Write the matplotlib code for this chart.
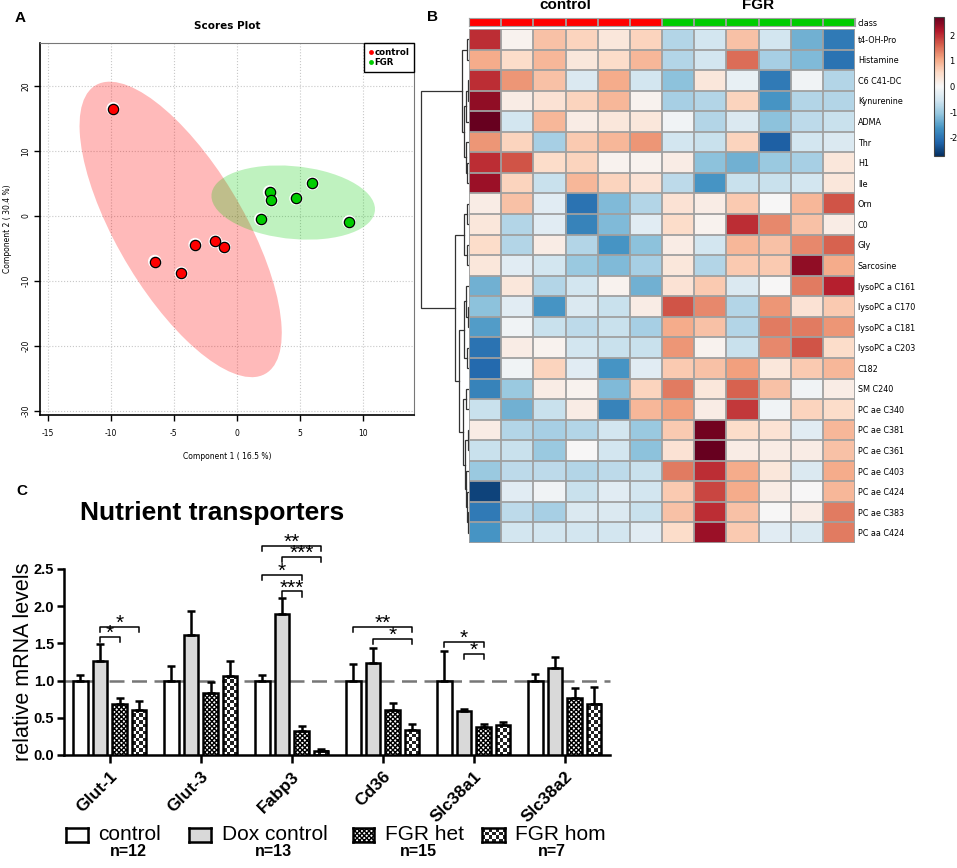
import numpy as np
import matplotlib
matplotlib.use("Agg")
import matplotlib.pyplot as plt
from matplotlib.patches import Ellipse, Rectangle
from matplotlib.lines import Line2D
from matplotlib.colors import ListedColormap, Normalize
from matplotlib.cm import ScalarMappable

plt.rcParams['hatch.linewidth'] = 1.0

# ---------------- Panel A data (PLS-DA scores) ----------------
ctrl_x = [-9.8, -6.5, -4.4, -3.3, -1.7, -1.0]
ctrl_y = [16.5, -7.0, -8.8, -4.4, -3.9, -4.8]
fgr_x = [1.9, 2.6, 2.75, 4.7, 6.0, 8.9]
fgr_y = [-0.5, 3.7, 2.4, 2.7, 5.0, -0.9]
pca_xticks = [-15, -10, -5, 0, 5, 10]
pca_yticks = [-30, -20, -10, 0, 10, 20]

# ---------------- Panel B data (heatmap) ----------------
metabolites = ["t4-OH-Pro", "Histamine", "C6 C41-DC", "Kynurenine", "ADMA", "Thr", "H1", "Ile",
               "Orn", "C0", "Gly", "Sarcosine", "lysoPC a C161", "lysoPC a C170", "lysoPC a C181",
               "lysoPC a C203", "C182", "SM C240", "PC ae C340", "PC ae C381", "PC ae C361",
               "PC ae C403", "PC ae C424", "PC ae C383", "PC aa C424"]
sample_class = [0, 0, 0, 0, 0, 0, 1, 1, 1, 1, 1, 1]
class_names = ["control", "FGR"]
heat = [
    [2.0, 0.1, 0.8, 0.6, 0.3, 0.6, -0.8, -0.5, 0.8, -0.5, -1.3, -1.9],
    [1.0, 0.5, 0.9, 0.3, 0.5, 0.9, -0.8, -0.5, 1.5, -0.9, -1.2, -2.0],
    [2.0, 1.2, 0.8, -0.4, 1.0, -0.5, -1.1, 0.3, -0.2, -1.9, -0.1, -0.8],
    [2.4, 0.2, 0.4, 0.6, 0.9, 0.1, -0.9, -0.8, 0.6, -1.6, -0.8, -0.8],
    [2.8, -0.5, 0.9, 0.2, 0.3, 0.3, -0.1, -0.8, -0.4, -1.1, -0.7, -0.6],
    [1.2, 0.6, -0.9, 0.7, 0.9, 1.2, -0.5, -0.6, 0.6, -2.2, -0.5, -0.4],
    [2.0, 1.7, 0.5, 0.6, 0.1, 0.1, 0.2, -1.1, -1.3, -1.0, -0.9, 0.3],
    [2.3, 0.6, -0.6, 0.9, 0.6, 0.4, -0.7, -1.6, -0.6, -0.6, -0.5, 0.3],
    [0.2, 0.8, -0.3, -2.0, -1.2, -0.8, 0.4, 0.2, 0.7, 0.0, 0.9, 1.7],
    [0.3, -0.8, -0.3, -1.8, -1.2, -0.3, 0.5, 0.1, 2.0, 1.3, 0.8, 0.2],
    [0.5, -0.8, 0.2, -0.8, -1.6, -1.1, 0.2, -0.5, 0.9, 0.8, 1.3, 1.6],
    [0.3, -0.3, -0.5, -1.0, -1.2, -0.9, 0.3, -0.8, 0.7, 0.7, 2.4, 1.0],
    [-1.3, 0.3, -0.8, -0.5, 0.1, -1.3, 0.4, 0.7, -0.4, 0.0, 1.4, 2.1],
    [-1.1, -0.3, -1.6, -0.4, -0.6, 0.2, 1.7, 1.3, -0.8, 1.2, 0.4, 0.7],
    [-1.5, -0.1, -0.6, -0.7, -0.6, -0.9, 1.0, 0.8, -0.8, 1.4, 1.4, 1.2],
    [-2.0, 0.2, 0.1, -0.5, -0.6, -0.6, 1.2, 0.1, -0.6, 1.3, 1.7, 0.5],
    [-2.1, -0.1, 0.6, -0.3, -1.6, -0.3, 0.7, 0.8, 1.1, 0.3, 0.7, 0.9],
    [-1.8, -1.0, 0.2, 0.1, -1.2, 0.6, 1.4, 0.3, 1.6, 0.8, -0.1, 0.2],
    [-0.6, -1.3, -0.6, 0.2, -1.8, 0.9, 1.1, 0.2, 1.9, -0.1, 0.6, 0.5],
    [0.2, -0.8, -0.9, -0.8, -0.5, -1.0, 0.7, 2.6, 0.5, 0.4, -0.3, 0.9],
    [-0.6, -0.6, -1.0, 0.0, -0.5, -1.1, 0.4, 2.9, 0.2, 0.2, 0.2, 0.8],
    [-1.0, -0.7, -0.7, -0.8, -0.7, -0.6, 1.4, 2.0, 1.0, 0.3, -0.4, 1.0],
    [-2.5, -0.3, -0.1, -0.6, -0.3, -0.5, 0.7, 1.8, 1.0, 0.2, 0.0, 0.9],
    [-1.9, -0.7, -0.9, -0.4, -0.4, -0.6, 0.8, 2.0, 0.8, 0.0, 0.2, 1.4],
    [-1.6, -0.5, -0.5, -0.5, -0.5, -0.3, 0.5, 2.3, 0.7, -0.3, -0.4, 1.4],
]
# row dendrogram: (left, right, merge height); leaves are row indices
tree_top = ((0, 1, 1.7), (((2, 3, 1.5), 4, 2.8), (5, (6, 7, 2.4), 3.4), 4.8), 6.7)
tree_orn = ((8, 9, 1.7), (10, 11, 2.3), 5.0)
tree_lyso = ((12, (13, 14, 1.5), 3.2), (15, 16, 2.2), 5.0)
tree_pc = ((17, 18, 3.0), ((19, 20, 1.4), (21, (22, (23, 24, 1.2), 2.0), 2.8), 4.2), 6.0)
row_tree = (tree_top, (tree_orn, (tree_lyso, tree_pc, 10.0), 14.3), 48.3)

# ---------------- Panel C data ----------------
genes = ["Glut-1", "Glut-3", "Fabp3", "Cd36", "Slc38a1", "Slc38a2"]
conditions = ["control", "Dox control", "FGR het", "FGR hom"]
n_labels = ["n=12", "n=13", "n=15", "n=7"]
control_mean = [1.0, 1.0, 1.0, 1.0, 1.0, 1.0]
control_sem = [0.08, 0.19, 0.08, 0.22, 0.40, 0.09]
dox_mean = [1.26, 1.61, 1.90, 1.23, 0.59, 1.17]
dox_sem = [0.23, 0.32, 0.21, 0.21, 0.03, 0.15]
het_mean = [0.68, 0.83, 0.32, 0.60, 0.37, 0.77]
het_sem = [0.09, 0.15, 0.07, 0.10, 0.04, 0.13]
hom_mean = [0.60, 1.06, 0.06, 0.33, 0.40, 0.69]
hom_sem = [0.12, 0.20, 0.02, 0.09, 0.04, 0.23]
# significance: (gene, bar a, bar b, bracket level, label)
brackets = [
    (0, 1, 2, 1.59, "*"), (0, 1, 3, 1.72, "*"),
    (2, 0, 3, 2.81, "**"), (2, 1, 3, 2.66, "***"), (2, 0, 2, 2.42, "*"), (2, 1, 2, 2.20, "***"),
    (3, 0, 3, 1.72, "**"), (3, 1, 3, 1.56, "*"),
    (4, 0, 2, 1.52, "*"), (4, 1, 2, 1.36, "*"),
]

# ==================================================================
W, H = 957, 868
fig = plt.figure(figsize=(W / 100, H / 100), dpi=100)


def ax_px(l, t, r, b, **kw):
    return fig.add_axes([l / W, 1 - b / H, (r - l) / W, (b - t) / H], **kw)


def fx(x):
    return x / W


def fy(y):
    return 1 - y / H


RFONT = "DejaVu Sans"
AFONT = "Liberation Sans"

# ---------------- Panel A ----------------
axA = ax_px(40, 43, 414, 415)
axA.set_xlim(-15.6, 14.05)
axA.set_ylim(-30.6, 26.6)
chi2_95 = -2 * np.log(0.05)
for xs, ys, col in [(ctrl_x, ctrl_y, (1.0, 0.0, 0.0, 0.27)), (fgr_x, fgr_y, (0.0, 0.8, 0.0, 0.25))]:
    xs_a, ys_a = np.array(xs), np.array(ys)
    cov = np.cov(xs_a, ys_a)
    vals, vecs = np.linalg.eigh(cov)
    order = vals.argsort()[::-1]
    vals, vecs = vals[order], vecs[:, order]
    ang = np.degrees(np.arctan2(vecs[1, 0], vecs[0, 0]))
    e = Ellipse((xs_a.mean(), ys_a.mean()), 2 * np.sqrt(chi2_95 * vals[0]),
                2 * np.sqrt(chi2_95 * vals[1]), angle=ang, facecolor=col, edgecolor='none', zorder=1)
    axA.add_patch(e)
for xs, ys, col in [(ctrl_x, ctrl_y, '#ff0000'), (fgr_x, fgr_y, '#00cc00')]:
    axA.scatter(xs, ys, s=95, c='white', edgecolors='none', zorder=3)
    axA.scatter(xs, ys, s=55, c=col, edgecolors='black', linewidths=0.9, zorder=4)
axA.set_xticks(pca_xticks)
axA.set_yticks(pca_yticks)
axA.set_xticklabels([str(v) for v in pca_xticks], fontsize=5.5, family=RFONT)
axA.set_yticklabels([str(v) for v in pca_yticks], fontsize=5.5, family=RFONT, rotation=90, va='center')
axA.grid(True, ls=':', color='#c8c8c8', lw=0.8)
axA.set_axisbelow(True)
for s in ['top', 'right']:
    axA.spines[s].set_color('#777777')
    axA.spines[s].set_linewidth(0.8)
for s in ['left', 'bottom']:
    axA.spines[s].set_color('black')
    axA.spines[s].set_linewidth(1.2)
axA.tick_params(direction='out', length=4, width=1)
axA.tick_params(axis='x', pad=6)
axA.tick_params(axis='y', pad=3)
axA.set_xlabel("Component 1 ( 16.5 %)", fontsize=5.5, family=RFONT, labelpad=10)
axA.set_ylabel("Component 2 ( 30.4 %)", fontsize=5.5, family=RFONT, labelpad=7)
axA.set_title("Scores Plot", fontsize=7.5, fontweight='bold', family=RFONT, pad=10)
hA = [Line2D([], [], marker='o', ls='none', markerfacecolor='#ff0000', markeredgecolor='none',
             markersize=3.5, label='control'),
      Line2D([], [], marker='o', ls='none', markerfacecolor='#00cc00', markeredgecolor='none',
             markersize=3.5, label='FGR')]
legA = axA.legend(handles=hA, loc='upper right', borderaxespad=0, fancybox=False, edgecolor='black',
                  prop={'family': RFONT, 'weight': 'bold', 'size': 6.2}, handlelength=0.5,
                  handletextpad=0.15, borderpad=0.55, labelspacing=0.2, framealpha=1)
legA.get_frame().set_linewidth(1.0)

# ---------------- Panel B ----------------
heat_a = np.array(heat)
nrow, ncol = heat_a.shape
cmap = plt.get_cmap('RdBu_r')
norm = Normalize(vmin=-2.7, vmax=2.7)
axH = ax_px(469, 29, 855, 543)
axH.imshow(heat_a, cmap=cmap, norm=norm, aspect='auto', interpolation='nearest')
for i in range(ncol + 1):
    axH.axvline(i - 0.5, color='#a0a0a0', lw=1.3)
for j in range(nrow + 1):
    axH.axhline(j - 0.5, color='#a0a0a0', lw=1.3)
axH.set_xlim(-0.5, ncol - 0.5)
axH.set_ylim(nrow - 0.5, -0.5)
axH.set_xticks([])
axH.set_yticks(range(nrow))
axH.set_yticklabels(metabolites, fontsize=5.8, family=RFONT)
axH.yaxis.tick_right()
axH.tick_params(axis='y', length=0, pad=2)
for s in axH.spines.values():
    s.set_visible(False)

# class bar
axC = ax_px(469, 18, 855, 26)
axC.imshow([sample_class], cmap=ListedColormap(['#ff0000', '#00cc00']), aspect='auto',
           interpolation='nearest', vmin=0, vmax=1)
for i in range(ncol + 1):
    axC.axvline(i - 0.5, color='#a0a0a0', lw=1.3)
axC.set_xlim(-0.5, ncol - 0.5)
axC.set_ylim(0.5, -0.5)
axC.set_xticks([])
axC.set_yticks([0])
axC.set_yticklabels(["class"], fontsize=5.8, family=RFONT)
axC.yaxis.tick_right()
axC.tick_params(axis='y', length=0, pad=2)
for s in axC.spines.values():
    s.set_color('#a0a0a0')
sc = np.array(sample_class)
for k, name in enumerate(class_names):
    idx = np.where(sc == k)[0]
    xc = (idx.min() + idx.max()) / 2
    axC.text(xc, -1.2, name, ha='center', va='bottom', fontsize=11, fontweight='bold',
             family=AFONT, clip_on=False)

# dendrogram
axD = ax_px(420, 29, 469, 543)
axD.set_ylim(nrow - 0.5, -0.5)
axD.set_xlim(49.0, 0)
axD.axis('off')


def draw_tree(ax, node):
    if isinstance(node, int):
        return float(node), 0.0
    left, right, h = node
    yl, hl = draw_tree(ax, left)
    yr, hr = draw_tree(ax, right)
    ax.plot([hl, h, h, hr], [yl, yl, yr, yr], color='#333333', lw=0.9, solid_joinstyle='miter')
    return (yl + yr) / 2, h


draw_tree(axD, row_tree)

# colorbar
cax = ax_px(934, 17, 944, 156)
cb = fig.colorbar(ScalarMappable(norm=norm, cmap=cmap), cax=cax)
cb.set_ticks([-2, -1, 0, 1, 2])
cb.set_ticklabels(["-2", "-1", "0", "1", "2"])
cb.ax.tick_params(labelsize=6, length=0, pad=4)
for t in cb.ax.get_yticklabels():
    t.set_family(RFONT)
cb.outline.set_linewidth(0.8)
cb.outline.set_edgecolor('#444444')

# ---------------- Panel C ----------------
axB = ax_px(64, 569, 610, 755)
xg = np.arange(len(genes))
offsets = [-0.32, -0.105, 0.11, 0.325]
bw = 0.16
means = [control_mean, dox_mean, het_mean, hom_mean]
sems = [control_sem, dox_sem, het_sem, hom_sem]
axB.set_xlim(-0.5, len(genes) - 0.5)
axB.set_ylim(0, 2.5)
axB.axhline(1.0, color='#777777', lw=1.8, dashes=(6, 3), zorder=1, clip_on=False)
fig.canvas.draw()


def checker(ax, x0, y0, w, h, cell=3.4, z=2):
    p0 = ax.transData.transform((x0, y0))
    p1 = ax.transData.transform((x0 + w, y0 + h))
    nx = max(1, int(round(abs(p1[0] - p0[0]) / cell)))
    ny = max(1, int(round(abs(p1[1] - p0[1]) / cell)))
    pat = (np.add.outer(np.arange(ny), np.arange(nx)) % 2)
    im = ax.imshow(pat, cmap=ListedColormap(['white', '#222222']), extent=[x0, x0 + w, y0, y0 + h],
                   interpolation='nearest', aspect='auto', zorder=z, origin='lower')
    return im


for k in range(4):
    xs = xg + offsets[k]
    if k == 0:
        fc, hatch = 'white', None
    elif k == 1:
        fc, hatch = '#d9d9d9', None
    elif k == 2:
        fc, hatch = 'white', 'xxxxxxx'
    else:
        fc, hatch = 'none', None
    bars = axB.bar(xs, means[k], width=bw, facecolor=fc, edgecolor='black', linewidth=1.8,
                   hatch=hatch, zorder=3)
    if k == 3:
        for b in bars:
            checker(axB, b.get_x(), 0, b.get_width(), b.get_height(), z=2.5)
    axB.errorbar(xs, means[k], yerr=[np.zeros(len(genes)), sems[k]], fmt='none', ecolor='black',
                 elinewidth=1.8, capsize=3.2, capthick=1.8, zorder=4)
axB.set_xlim(-0.5, len(genes) - 0.5)
axB.set_ylim(0, 2.5)

for g, a, b2, lvl, lab in brackets:
    xa, xb = g + offsets[a], g + offsets[b2]
    d = 0.07
    axB.plot([xa, xa, xb, xb], [lvl - d, lvl, lvl, lvl - d], color='black', lw=1.1, clip_on=False)
    axB.text((xa + xb) / 2, lvl - 0.03, lab, ha='center', va='baseline', fontsize=15,
             family=AFONT, clip_on=False)

for s in ['top', 'right']:
    axB.spines[s].set_visible(False)
for s in ['left', 'bottom']:
    axB.spines[s].set_linewidth(1.8)
axB.set_xticks(xg)
axB.set_xticklabels(genes, rotation=45, ha='right', va='top', rotation_mode='anchor', fontsize=12.5,
                    fontweight='bold', family=AFONT)
axB.set_yticks([0, 0.5, 1.0, 1.5, 2.0, 2.5])
axB.set_yticklabels(["0.0", "0.5", "1.0", "1.5", "2.0", "2.5"], fontsize=10.5, fontweight='bold',
                    family=AFONT)
axB.tick_params(axis='x', length=6, width=1.8, pad=4)
axB.tick_params(axis='y', length=5, width=1.8, pad=2)
axB.set_ylabel("relative mRNA levels", fontsize=15.5, family=AFONT, labelpad=0)
fig.text(fx(212), fy(513), "Nutrient transporters", ha='center', va='center', fontsize=19,
         fontweight='bold', family=AFONT)

# legend for panel C
leg_boxes = [(66, 88), (189, 211), (353, 374), (482, 505)]
leg_text_x = [98, 222, 385, 515]
leg_n_x = [128, 273, 418, 552]
for k in range(4):
    l, r = leg_boxes[k]
    lax = ax_px(l, 828, r, 842)
    lax.set_xlim(0, 1)
    lax.set_ylim(0, 1)
    lax.set_xticks([])
    lax.set_yticks([])
    for s in lax.spines.values():
        s.set_linewidth(1.8)
    if k == 1:
        lax.set_facecolor('#d9d9d9')
    elif k == 2:
        lax.add_patch(Rectangle((0, 0), 1, 1, facecolor='white', hatch='xxxxxxx', edgecolor='black', lw=0))
    elif k == 3:
        checker(lax, 0, 0, 1, 1)
        lax.set_xlim(0, 1)
        lax.set_ylim(0, 1)
    fig.text(fx(leg_text_x[k]), fy(835), conditions[k], ha='left', va='center', fontsize=15,
             family=AFONT)
    fig.text(fx(leg_n_x[k]), fy(852), n_labels[k], ha='center', va='center', fontsize=11.5,
             fontweight='bold', family=AFONT)

# panel letters
fig.text(fx(20), fy(18), "A", fontsize=11, fontweight='bold', family=AFONT, ha='center', va='center')
fig.text(fx(433), fy(17), "B", fontsize=11, fontweight='bold', family=AFONT, ha='center', va='center')
fig.text(fx(22), fy(491), "C", fontsize=11, fontweight='bold', family=AFONT, ha='center', va='center')

fig.savefig("out.png", dpi=100)
